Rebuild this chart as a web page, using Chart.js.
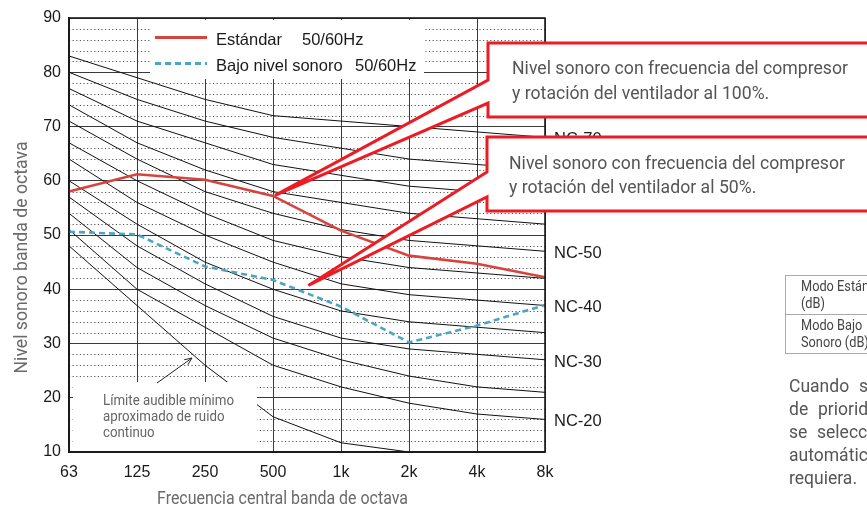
<!DOCTYPE html>
<html lang="es"><head><meta charset="utf-8">
<title>Curvas NC</title>
<script src="https://cdn.jsdelivr.net/npm/chart.js@4.4.1/dist/chart.umd.min.js"></script>
<style>
html,body{margin:0;padding:0;background:#fff;overflow:hidden}
#wrap{position:relative;width:867px;height:506px;overflow:hidden;background:#fff}
#c{position:absolute;left:0;top:0}
.t{position:absolute;white-space:nowrap;line-height:1}
.cond{font-family:Roboto,'Liberation Sans',sans-serif}
.arial{font-family:'Liberation Sans',Arial,sans-serif}
svg.ov{position:absolute;left:0;top:0;overflow:visible}
.box{position:absolute;background:#fff}
table.modo{position:absolute;border-collapse:collapse;font-family:Roboto,'Liberation Sans',sans-serif;color:#444}
table.modo td{border:1px solid #aaa;padding:2px 0 2px 15px;vertical-align:top}
</style></head><body>
<div id="wrap"><canvas id="c" width="867" height="506"></canvas></div>
<script>
// ---------- data ----------
const categories = ['63','125','250','500','1k','2k','4k','8k'];
const estandar   = [58.0, 61.2, 60.2, 57.2, 50.8, 46.2, 44.7, 42.2];
const bajoNivel  = [50.6, 50.1, 44.2, 41.7, 36.8, 30.2, 33.3, 37.1];
const nc70 = [83, 79, 75, 72, 71, 70, 69, 68];
const nc65 = [80, 75, 71, 68, 66, 64, 63, 62];
const nc60 = [77, 71, 67, 63, 61, 59, 58, 57];
const nc55 = [74, 67, 62, 58, 56, 54, 53, 52];
const nc50 = [71, 64, 58, 54, 51, 49, 48, 47];
const nc45 = [67, 60, 54, 49, 46, 44, 43, 42];
const nc40 = [64, 56, 50, 45, 41, 39, 38, 37];
const nc35 = [60, 52, 45, 40, 36, 34, 33, 32];
const nc30 = [57, 48, 41, 35, 31, 29, 28, 27];
const nc25 = [54, 44, 37, 31, 27, 24, 22, 21];
const nc20 = [51, 40, 33, 26, 22, 19, 17, 16];
const umbral = [48, 37, 26, 16.5, 11.7, 10, null, null];
const ncCurves = [nc70, nc65, nc60, nc55, nc50, nc45, nc40, nc35, nc30, nc25, nc20];
const ncLabelNames  = ['NC-70', 'NC-50', 'NC-40', 'NC-30', 'NC-20'];
const ncLabelSeries = [nc70, nc50, nc40, nc30, nc20];
const yMin = 10, yMax = 90, yMajorStep = 10;
const yMinorTicks = [12,14,16,18,22,24,26,28,32,34,36,38,42,44,46,48,52,54,56,58,62,64,66,68,72,74,76,78,82,84,86,88];
const seriesNames = ['Estándar', 'Bajo nivel sonoro'];
const freqNote = '50/60Hz';
const calloutTexts = [
  ['Nivel sonoro con frecuencia del compresor', 'y rotación del ventilador al 100%.'],
  ['Nivel sonoro con frecuencia del compresor', 'y rotación del ventilador al 50%.']
];
// callout pointer tips in data coordinates (category index, dB)
const calloutTipX = [3.03, 3.52];
const calloutTipY = [57.3, 40.7];
const limitText = ['Límite audible mínimo', 'aproximado de ruido', 'continuo'];
const xTitle = 'Frecuencia central banda de octava';
const yTitle = 'Nivel sonoro banda de octava';
const tableRows = ['Modo Estándar (dB)', 'Modo Bajo Sonoro (dB)'];
const noteLines = [['Cuando', 'se'], ['de', 'prioridad'], ['se', 'selecciona'], ['automáticamente'], ['requiera.']];

// ---------- colours ----------
const RED_LINE = '#d8443d', BLUE_LINE = '#4aa5c8', CALLOUT = '#ec1c24';

// ---------- plugins ----------
const minorGrid = {
  id: 'minorGrid',
  beforeDatasetsDraw(chart) {
    const {ctx, chartArea: a, scales: {y}} = chart;
    ctx.save();
    ctx.strokeStyle = '#555';
    ctx.lineWidth = 1;
    ctx.setLineDash([1.2, 2.4]);
    yMinorTicks.forEach(v => {
      const py = Math.round(y.getPixelForValue(v)) + 0.5;
      ctx.beginPath(); ctx.moveTo(a.left, py); ctx.lineTo(a.right, py); ctx.stroke();
    });
    ctx.restore();
  }
};
const frame = {
  id: 'frame',
  afterDatasetsDraw(chart) {
    const {ctx, chartArea: a} = chart;
    ctx.save();
    ctx.strokeStyle = '#1a1a1a';
    ctx.lineWidth = 1.6;
    ctx.strokeRect(a.left, a.top, a.right - a.left, a.bottom - a.top);
    ctx.restore();
  }
};

const datasets = [
  {label: seriesNames[0], data: estandar, borderColor: RED_LINE, borderWidth: 2.6},
  {label: seriesNames[1], data: bajoNivel, borderColor: BLUE_LINE, borderWidth: 2.6, borderDash: [6, 4]}
];
ncCurves.forEach((c, i) => datasets.push({label: 'NC' + i, data: c, borderColor: '#111', borderWidth: 1}));
datasets.push({label: 'umbral', data: umbral, borderColor: '#111', borderWidth: 1, spanGaps: false});

const tickFont = {family: "'Liberation Sans', Arial, sans-serif", size: 16};
const chart = new Chart(document.getElementById('c'), {
  type: 'line',
  data: {labels: categories, datasets},
  options: {
    responsive: false,
    animation: false,
    devicePixelRatio: 1,
    layout: {padding: {top: 18, right: 322, left: 0, bottom: 0}},
    plugins: {legend: {display: false}, tooltip: {enabled: false}},
    elements: {point: {radius: 0}, line: {tension: 0, fill: false}},
    scales: {
      x: {
        type: 'category', offset: false,
        grid: {color: '#3a3a3a', lineWidth: 1, drawTicks: false},
        border: {display: true, color: '#1a1a1a', width: 1.6},
        ticks: {color: '#1a1a1a', font: tickFont, padding: 11, maxRotation: 0, autoSkip: false},
        afterFit(s) { s.height = 54; }
      },
      y: {
        min: yMin, max: yMax,
        grid: {color: '#3a3a3a', lineWidth: 1, drawTicks: false},
        border: {display: true, color: '#1a1a1a', width: 1.6},
        ticks: {stepSize: yMajorStep, color: '#1a1a1a', font: tickFont, padding: 8},
        afterFit(s) { s.width = 69; }
      }
    }
  },
  plugins: [minorGrid, frame]
});

// ---------- overlays ----------
const wrap = document.getElementById('wrap');
const SVGNS = 'http://www.w3.org/2000/svg';
function addText(txt, x, cy, cls, size, color, z) {
  const d = document.createElement('div');
  d.className = 't ' + cls;
  d.textContent = txt;
  d.style.fontSize = size + 'px';
  d.style.color = color;
  d.style.left = x + 'px';
  d.style.top = (cy - size / 2) + 'px';
  d.style.zIndex = z || 3;
  wrap.appendChild(d);
  return d;
}
function squeeze(d, w) {
  const nat = d.getBoundingClientRect().width;
  const s = w / nat;
  d.style.transformOrigin = '0 50%';
  d.style.transform = 'scaleX(' + s + ')';
  return s;
}
function addBox(x, y, w, h, z) {
  const b = document.createElement('div');
  b.className = 'box';
  Object.assign(b.style, {left: x + 'px', top: y + 'px', width: w + 'px', height: h + 'px', zIndex: z || 1});
  wrap.appendChild(b);
  return b;
}
function svgLayer(z) {
  const s = document.createElementNS(SVGNS, 'svg');
  s.setAttribute('class', 'ov');
  s.setAttribute('width', 867); s.setAttribute('height', 506);
  s.style.zIndex = z;
  wrap.appendChild(s);
  return s;
}
function svgEl(parent, tag, attrs) {
  const e = document.createElementNS(SVGNS, tag);
  for (const k in attrs) e.setAttribute(k, attrs[k]);
  parent.appendChild(e);
  return e;
}

const xs = chart.scales.x, ys = chart.scales.y, area = chart.chartArea;

// NC labels at the right end of their curves
ncLabelNames.forEach((n, i) => {
  const v = ncLabelSeries[i][ncLabelSeries[i].length - 1];
  addText(n, area.right + 9, ys.getPixelForValue(v) + 1, 'arial', 16.5, '#1a1a1a', 1);
});

// legend
addBox(150, 19.5, 274, 59, 1);
const lg = svgLayer(2);
svgEl(lg, 'line', {x1: 155, y1: 37.5, x2: 207, y2: 37.5, stroke: RED_LINE, 'stroke-width': 2.8});
svgEl(lg, 'line', {x1: 155, y1: 63.5, x2: 207, y2: 63.5, stroke: BLUE_LINE, 'stroke-width': 2.8, 'stroke-dasharray': '6 4'});
addText(seriesNames[0], 216, 39.5, 'arial', 16.5, '#1a1a1a');
addText(freqNote, 302, 39.5, 'arial', 16.5, '#1a1a1a');
addText(seriesNames[1], 216, 65.5, 'arial', 16.5, '#1a1a1a');
addText(freqNote, 355, 65.5, 'arial', 16.5, '#1a1a1a');

// minimum audible limit note
addBox(73, 382, 184, 68.5, 1);
const ar = svgLayer(2);
(function () {
  const x1 = 157, y1 = 383, x2 = 192, y2 = 358;
  svgEl(ar, 'line', {x1, y1, x2, y2, stroke: '#222', 'stroke-width': 1});
  const ang = Math.atan2(y2 - y1, x2 - x1), L = 8, sp = 0.4;
  const p1 = [x2 - L * Math.cos(ang - sp), y2 - L * Math.sin(ang - sp)];
  const p2 = [x2 - L * Math.cos(ang + sp), y2 - L * Math.sin(ang + sp)];
  svgEl(ar, 'polyline', {points: `${p1[0]},${p1[1]} ${x2},${y2} ${p2[0]},${p2[1]}`, fill: 'none', stroke: '#222', 'stroke-width': 1});
})();
const limitLines = limitText.map((t, i) => addText(t, 103, 400 + i * 16, 'cond', 15, '#666'));
const ls = 131 / limitLines[0].getBoundingClientRect().width;
limitLines.forEach(d => { d.style.transformOrigin = '0 50%'; d.style.transform = 'scaleX(' + ls + ')'; });

// callouts
const co = svgLayer(4);
const boxes = [
  {bx: 488, top: 43, bottom: 117, b1: 80, b2: 103, tx0: 512, ty: [67, 92], w: 336},
  {bx: 487, top: 137, bottom: 211, b1: 172, b2: 197, tx0: 509, ty: [162, 186], w: 336}
];
boxes.forEach((b, i) => {
  const tx = xs.getPixelForValue(calloutTipX[i]);
  const ty = ys.getPixelForValue(calloutTipY[i]);
  const d = `M${b.bx},${b.b1} L${b.bx},${b.top} L880,${b.top} L880,${b.bottom} L${b.bx},${b.bottom} L${b.bx},${b.b2} L${tx},${ty} Z`;
  svgEl(co, 'path', {d, fill: '#fff', stroke: CALLOUT, 'stroke-width': 3, 'stroke-linejoin': 'miter', 'stroke-miterlimit': 10});
  const l1 = addText(calloutTexts[i][0], b.tx0, b.ty[0], 'cond', 19, '#555', 5);
  const s = squeeze(l1, b.w);
  const l2 = addText(calloutTexts[i][1], b.tx0, b.ty[1], 'cond', 19, '#555', 5);
  l2.style.transformOrigin = '0 50%'; l2.style.transform = 'scaleX(' + s + ')';
});

// axis titles
(function () {
  const yt = addText(yTitle, 0, 0, 'cond', 19, '#6a6a6a', 3);
  const nat = yt.getBoundingClientRect().width;
  yt.style.left = (21 - nat / 2) + 'px';
  yt.style.top = (257 - 9.5) + 'px';
  yt.style.transformOrigin = '50% 50%';
  yt.style.transform = 'rotate(-90deg) scaleX(' + (232 / nat) + ')';
  const xt = addText(xTitle, 0, 497, 'cond', 19, '#6a6a6a', 3);
  const nx = xt.getBoundingClientRect().width;
  xt.style.left = (283 - nx / 2) + 'px';
  xt.style.transformOrigin = '50% 50%';
  xt.style.transform = 'scaleX(' + (251 / nx) + ')';
})();

// right side table and note (page content cut by the frame)
(function () {
  const tb = document.createElement('table');
  tb.className = 'modo';
  Object.assign(tb.style, {left: '785px', top: '275px', fontSize: '14.5px', lineHeight: '17px', zIndex: 3});
  tableRows.forEach(r => {
    const tr = document.createElement('tr');
    const td = document.createElement('td');
    const sp = document.createElement('div');
    sp.textContent = r;
    Object.assign(sp.style, {width: '99px', transform: 'scaleX(0.88)', transformOrigin: '0 50%'});
    td.appendChild(sp);
    const td2 = document.createElement('td');
    td2.style.width = '60px';
    tr.appendChild(td); tr.appendChild(td2);
    tb.appendChild(tr);
  });
  wrap.appendChild(tb);
  const wordX = [[789, 859], [789, 818], [789, 817], [789], [789]];
  const probe = addText(noteLines[4][0], 789, 0, 'cond', 19, '#555');
  const s = 68 / probe.getBoundingClientRect().width;
  probe.remove();
  noteLines.forEach((ln, i) => {
    ln.forEach((w, j) => {
      const d = addText(w, wordX[i][j], 385 + i * 23, 'cond', 19, '#555');
      d.style.transformOrigin = '0 50%';
      d.style.transform = 'scaleX(' + s + ')';
    });
  });
})();
</script></body></html>
